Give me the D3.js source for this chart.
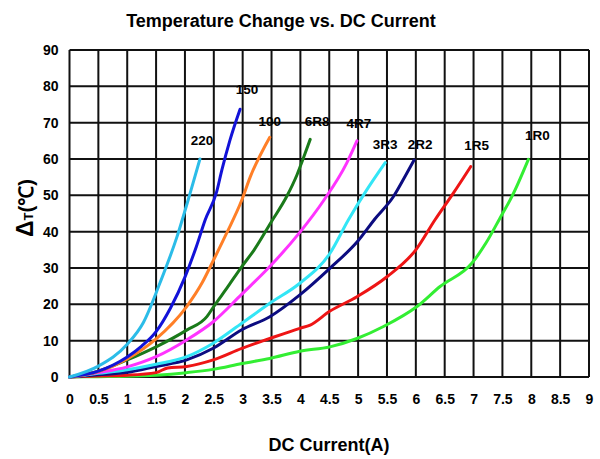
<!DOCTYPE html>
<html><head><meta charset="utf-8">
<script src="https://cdn.jsdelivr.net/npm/d3@7"></script>
<style>body{margin:0;background:#fff;}text{font-family:"Liberation Sans",Arial,sans-serif;font-weight:bold;}</style>
</head><body><svg id="c" width="600" height="459"></svg>
<script>
const xTicks = [0,0.5,1,1.5,2,2.5,3,3.5,4,4.5,5,5.5,6,6.5,7,7.5,8,8.5,9];
const yTicks = [0,10,20,30,40,50,60,70,80,90];
const seriesNames = ["1R0","1R5","2R2","3R3","4R7","6R8","100","150","220"];
const d1R0 = [[0,0],[0.5,0.1],[1.0,0.2],[1.5,0.5],[2.03,1.2],[2.49,2.1],[2.985,3.7],[3.47,5.1],[3.99,7.1],[4.51,8.3],[4.98,10.6],[5.44,13.9],[6.02,19.4],[6.42,24.9],[6.97,31.3],[7.22,37],[7.45,43.5],[7.69,50.5],[7.95,59.9]];
const d1R5 = [[0,0],[0.5,0.3],[1.0,0.5],[1.5,1.2],[1.7,2.5],[2.03,2.9],[2.49,4.7],[2.985,7.9],[3.47,10.6],[3.99,13.4],[4.17,14.3],[4.5,18],[4.98,22.1],[5.5,27.6],[6.0,35],[6.33,43.2],[6.65,50.6],[6.95,57.9]];
const d2R2 = [[0,0],[0.5,0.6],[1.0,1.3],[1.5,2.9],[2.03,4.7],[2.49,7.9],[2.985,13],[3.47,16.6],[3.99,22.6],[4.51,29.9],[5.0,37.5],[5.29,43.5],[5.61,49.6],[5.81,55.1],[5.97,59.7]];
const d3R3 = [[0,0],[0.5,1],[1.0,2],[1.5,3.5],[2.03,5.6],[2.49,9.3],[2.985,14.8],[3.47,20.3],[3.99,25.8],[4.51,34],[4.83,43.2],[5.15,51.5],[5.47,59]];
const d4R7 = [[0,0],[0.5,1.2],[1.0,2.8],[1.5,5.6],[2.03,10.2],[2.49,15.2],[2.985,22.8],[3.47,30.4],[4.0,40],[4.4,48.5],[4.8,58.8],[4.98,65]];
const d6R8 = [[0,0],[0.5,1.6],[1.0,4.7],[1.5,8.3],[2.03,12.9],[2.38,16.6],[2.5,19.4],[2.75,25],[2.985,30.4],[3.2,35],[3.5,42.8],[3.76,49.6],[3.94,55.6],[4.06,60.6],[4.17,65.4]];
const d100 = [[0,0],[0.5,1.5],[1.0,5],[1.5,10.5],[2.03,19.4],[2.3,26],[2.49,32],[2.72,39.5],[2.985,48.7],[3.13,55],[3.47,66]];
const d150 = [[0,0],[0.5,1.6],[1.0,5.5],[1.25,8.5],[1.5,12.5],[1.75,19],[2.0,27.5],[2.2,36],[2.35,43.2],[2.55,51],[2.64,57],[2.78,65.2],[2.955,73.7]];
const d220 = [[0,0],[0.5,3],[1.0,9],[1.28,15],[1.57,26],[1.86,38.5],[2.09,50.6],[2.26,60]];
const seriesData = [d1R0,d1R5,d2R2,d3R3,d4R7,d6R8,d100,d150,d220];

const colors = ["#33ee33","#ee1515","#0c0c80","#33e6f6","#ff33ff","#1a7a1a","#ff7f27","#1212d8","#2bbce8"];
const labelOffsets = [[9,-19],[6,-17],[6,-11],[0,-14],[2,-13],[7,-13],[0,-11],[7,-15],[2,-14]];

const svg = d3.select("#c");
const L=69.5, R=589, T=50, B=377;
const x = d3.scaleLinear().domain([0,9]).range([L,R]);
const y = d3.scaleLinear().domain([0,90]).range([B,T]);

svg.append("text").attr("x",281).attr("y",27).attr("text-anchor","middle")
  .attr("font-size",18).text("Temperature Change vs. DC Current");

const g = svg.append("g");
g.selectAll("line.v").data(xTicks).enter().append("line")
  .attr("x1",d=>x(d)).attr("x2",d=>x(d)).attr("y1",T).attr("y2",B)
  .attr("stroke","#111").attr("stroke-width",2);
g.selectAll("line.h").data(yTicks).enter().append("line")
  .attr("x1",L).attr("x2",R).attr("y1",d=>y(d)).attr("y2",d=>y(d))
  .attr("stroke","#111").attr("stroke-width",2);

const xAxis = d3.axisBottom(x).tickValues(xTicks).tickSize(0).tickPadding(0).tickFormat(d=>String(d));
const xa = svg.append("g").attr("transform",`translate(0,${B+17})`).call(xAxis);
xa.select(".domain").remove();
xa.selectAll("text").attr("font-size",14).attr("fill","#000").attr("font-family","Liberation Sans, Arial").attr("font-weight","bold");

const yAxis = d3.axisLeft(y).tickValues(yTicks).tickSize(0).tickPadding(11);
const ya = svg.append("g").attr("transform",`translate(${L},0)`).call(yAxis);
ya.select(".domain").remove();
ya.selectAll("text").attr("font-size",14).attr("fill","#000").attr("font-family","Liberation Sans, Arial").attr("font-weight","bold");

const line = d3.line().x(d=>x(d[0])).y(d=>y(d[1])).curve(d3.curveMonotoneX);
seriesData.forEach((s,i)=>{
  svg.append("path").datum(s).attr("d",line).attr("fill","none")
    .attr("stroke",colors[i]).attr("stroke-width",3).attr("stroke-linejoin","round").attr("stroke-linecap","round");
});
seriesData.forEach((s,i)=>{
  const e = s[s.length-1];
  svg.append("text").attr("x",x(e[0])+labelOffsets[i][0]).attr("y",y(e[1])+labelOffsets[i][1])
    .attr("text-anchor","middle").attr("font-size",13.5).text(seriesNames[i]);
});

const yt = svg.append("text").attr("transform",`translate(33,208) rotate(-90)`).attr("text-anchor","middle");
yt.append("tspan").attr("font-size",23).text("Δ");
yt.append("tspan").attr("font-size",13).text("T");
yt.append("tspan").attr("font-size",20).text("(℃)");

svg.append("text").attr("x",329).attr("y",451).attr("text-anchor","middle").attr("font-size",18).text("DC Current(A)");
</script></body></html>
